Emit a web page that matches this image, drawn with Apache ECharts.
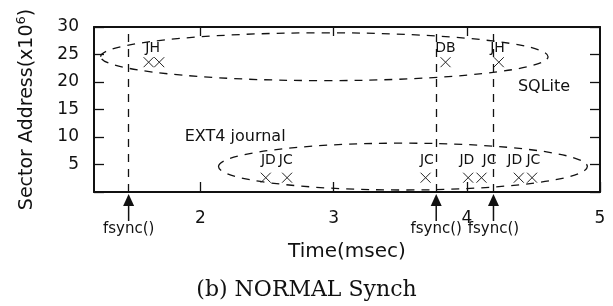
<!DOCTYPE html>
<html>
<head>
<meta charset="utf-8">
<script src="https://cdn.jsdelivr.net/npm/echarts@6/dist/echarts.min.js"></script>
<style>
  html, body { margin: 0; padding: 0; background: #fff; }
  #chart { width: 613px; height: 306px; }
</style>
</head>
<body>
<div id="chart"></div>
<script>
// block write samples (time in msec, sector address in 10^6)
const upperX = [1.61, 1.69, 3.84, 4.24];
const upperY = [23.6, 23.6, 23.6, 23.6];
const lowerX = [2.49, 2.65, 3.69, 4.01, 4.11, 4.39, 4.49];
const lowerY = [2.6, 2.6, 2.6, 2.6, 2.6, 2.6, 2.6];

// tags written above the marks
const tagText = ['JH', 'DB', 'JH', 'JD', 'JC', 'JC', 'JD', 'JC', 'JD', 'JC'];
const tagX = [1.64, 3.84, 4.23, 2.51, 2.64, 3.70, 4.00, 4.17, 4.36, 4.50];
const tagY = [26.2, 26.2, 26.2, 5.7, 5.7, 5.7, 5.7, 5.7, 5.7, 5.7];

// group notes
const noteText = ['SQLite', 'EXT4 journal'];
const noteX = [4.58, 2.26];
const noteY = [19.2, 10.1];

// fsync() calls
const fsyncX = [1.46, 3.77, 4.20];

// dashed groups: [centerX, centerY, radiusX, radiusY]
const groupSQLite = [2.93, 24.6, 1.68, 4.35];
const groupExt4 = [3.52, 4.62, 1.385, 4.26];

const xTicks = [2, 3, 4, 5];

const font = 'DejaVu Sans';
const ink = '#111';

const chart = echarts.init(document.getElementById('chart'));

const points = upperX.map((x, i) => [x, upperY[i]])
  .concat(lowerX.map((x, i) => [x, lowerY[i]]));

const option = {
  animation: false,
  title: {
    text: '(b) NORMAL Synch',
    left: 'center',
    top: 274,
    textStyle: { fontFamily: 'DejaVu Serif', fontSize: 22, fontWeight: 'normal', color: ink }
  },
  grid: { left: 94, right: 13, top: 27, bottom: 114 },
  xAxis: [{
    type: 'value',
    min: 1.2,
    max: 5,
    name: 'Time(msec)',
    nameLocation: 'middle',
    nameGap: 50,
    nameTextStyle: { fontFamily: font, fontSize: 20, color: ink },
    axisLine: { show: true, onZero: false, lineStyle: { color: ink, width: 2 } },
    axisTick: { show: true, inside: true, length: 10, customValues: xTicks, lineStyle: { color: ink, width: 1.3 } },
    axisLabel: { customValues: xTicks, margin: 18, fontFamily: font, fontSize: 17, color: ink },
    splitLine: { show: false }
  }, {
    type: 'value',
    position: 'top',
    min: 1.2,
    max: 5,
    axisLine: { show: true, onZero: false, lineStyle: { color: ink, width: 2 } },
    axisTick: { show: true, inside: true, length: 9, customValues: [2, 3, 4], lineStyle: { color: ink, width: 1.3 } },
    axisLabel: { show: false },
    splitLine: { show: false }
  }],
  yAxis: [{
    type: 'value',
    min: 0,
    max: 30,
    interval: 5,
    name: 'Sector Address(x10{sup|6})',
    nameLocation: 'middle',
    nameGap: 54,
    nameTextStyle: {
      fontFamily: font, fontSize: 19, color: ink,
      rich: { sup: { fontFamily: font, fontSize: 13, color: ink, padding: [0, 0, 12, 0] } }
    },
    axisLine: { show: true, onZero: false, lineStyle: { color: ink, width: 2 } },
    axisTick: { show: true, inside: true, length: 10, lineStyle: { color: ink, width: 1.3 } },
    axisLabel: {
      margin: 15, fontFamily: font, fontSize: 17, color: ink,
      formatter: v => (v === 0 ? '' : v)
    },
    splitLine: { show: false }
  }, {
    type: 'value',
    position: 'right',
    min: 0,
    max: 30,
    interval: 5,
    axisLine: { show: true, onZero: false, lineStyle: { color: ink, width: 2 } },
    axisTick: { show: true, inside: true, length: 10, lineStyle: { color: ink, width: 1.3 } },
    axisLabel: { show: false },
    splitLine: { show: false }
  }],
  series: [{
    // dashed group outlines
    type: 'custom',
    silent: true,
    data: [groupSQLite, groupExt4],
    renderItem: (params, api) => {
      const c = api.coord([api.value(0), api.value(1)]);
      const s = api.size([api.value(2), api.value(3)]);
      return {
        type: 'ellipse',
        shape: { cx: c[0], cy: c[1], rx: s[0], ry: s[1] },
        style: { fill: 'none', stroke: ink, lineWidth: 1.3, lineDash: [8, 7] }
      };
    }
  }, {
    type: 'scatter',
    silent: true,
    data: points,
    symbol: 'path://M0,0L10,10M0,10L10,0',
    symbolSize: 10,
    itemStyle: { color: 'none', borderColor: '#222', borderWidth: 1, opacity: 1 },
    markLine: {
      silent: true,
      symbol: 'none',
      label: { show: false },
      lineStyle: { color: ink, width: 1.3, type: [8, 7] },
      data: fsyncX.map(x => ({ xAxis: x }))
    }
  }, {
    type: 'scatter',
    silent: true,
    symbolSize: 0,
    itemStyle: { opacity: 1 },
    data: tagX.map((x, i) => ({ value: [x, tagY[i]], name: tagText[i] })),
    label: {
      show: true, position: 'inside', formatter: p => p.name,
      fontFamily: font, fontSize: 14, color: ink
    }
  }, {
    type: 'scatter',
    silent: true,
    symbolSize: 0,
    itemStyle: { opacity: 1 },
    data: noteX.map((x, i) => ({ value: [x, noteY[i]], name: noteText[i] })),
    label: {
      show: true, position: 'inside', formatter: p => p.name,
      fontFamily: font, fontSize: 16, color: ink
    }
  }, {
    // fsync() arrows under the axis
    type: 'custom',
    silent: true,
    clip: false,
    data: fsyncX.map(x => [x, 0]),
    renderItem: (params, api) => {
      const p = api.coord([api.value(0), api.value(1)]);
      return {
        type: 'group',
        children: [{
          type: 'polygon',
          shape: { points: [[p[0], p[1] + 2], [p[0] - 5.5, p[1] + 14], [p[0] + 5.5, p[1] + 14]] },
          style: { fill: ink }
        }, {
          type: 'line',
          shape: { x1: p[0], y1: p[1] + 13, x2: p[0], y2: p[1] + 29 },
          style: { stroke: ink, lineWidth: 1.5 }
        }, {
          type: 'text',
          style: {
            x: p[0], y: p[1] + 30, text: 'fsync()', align: 'center', verticalAlign: 'top',
            font: '15px "DejaVu Sans"', fill: ink
          }
        }]
      };
    }
  }]
};

chart.setOption(option);
</script>
</body>
</html>
